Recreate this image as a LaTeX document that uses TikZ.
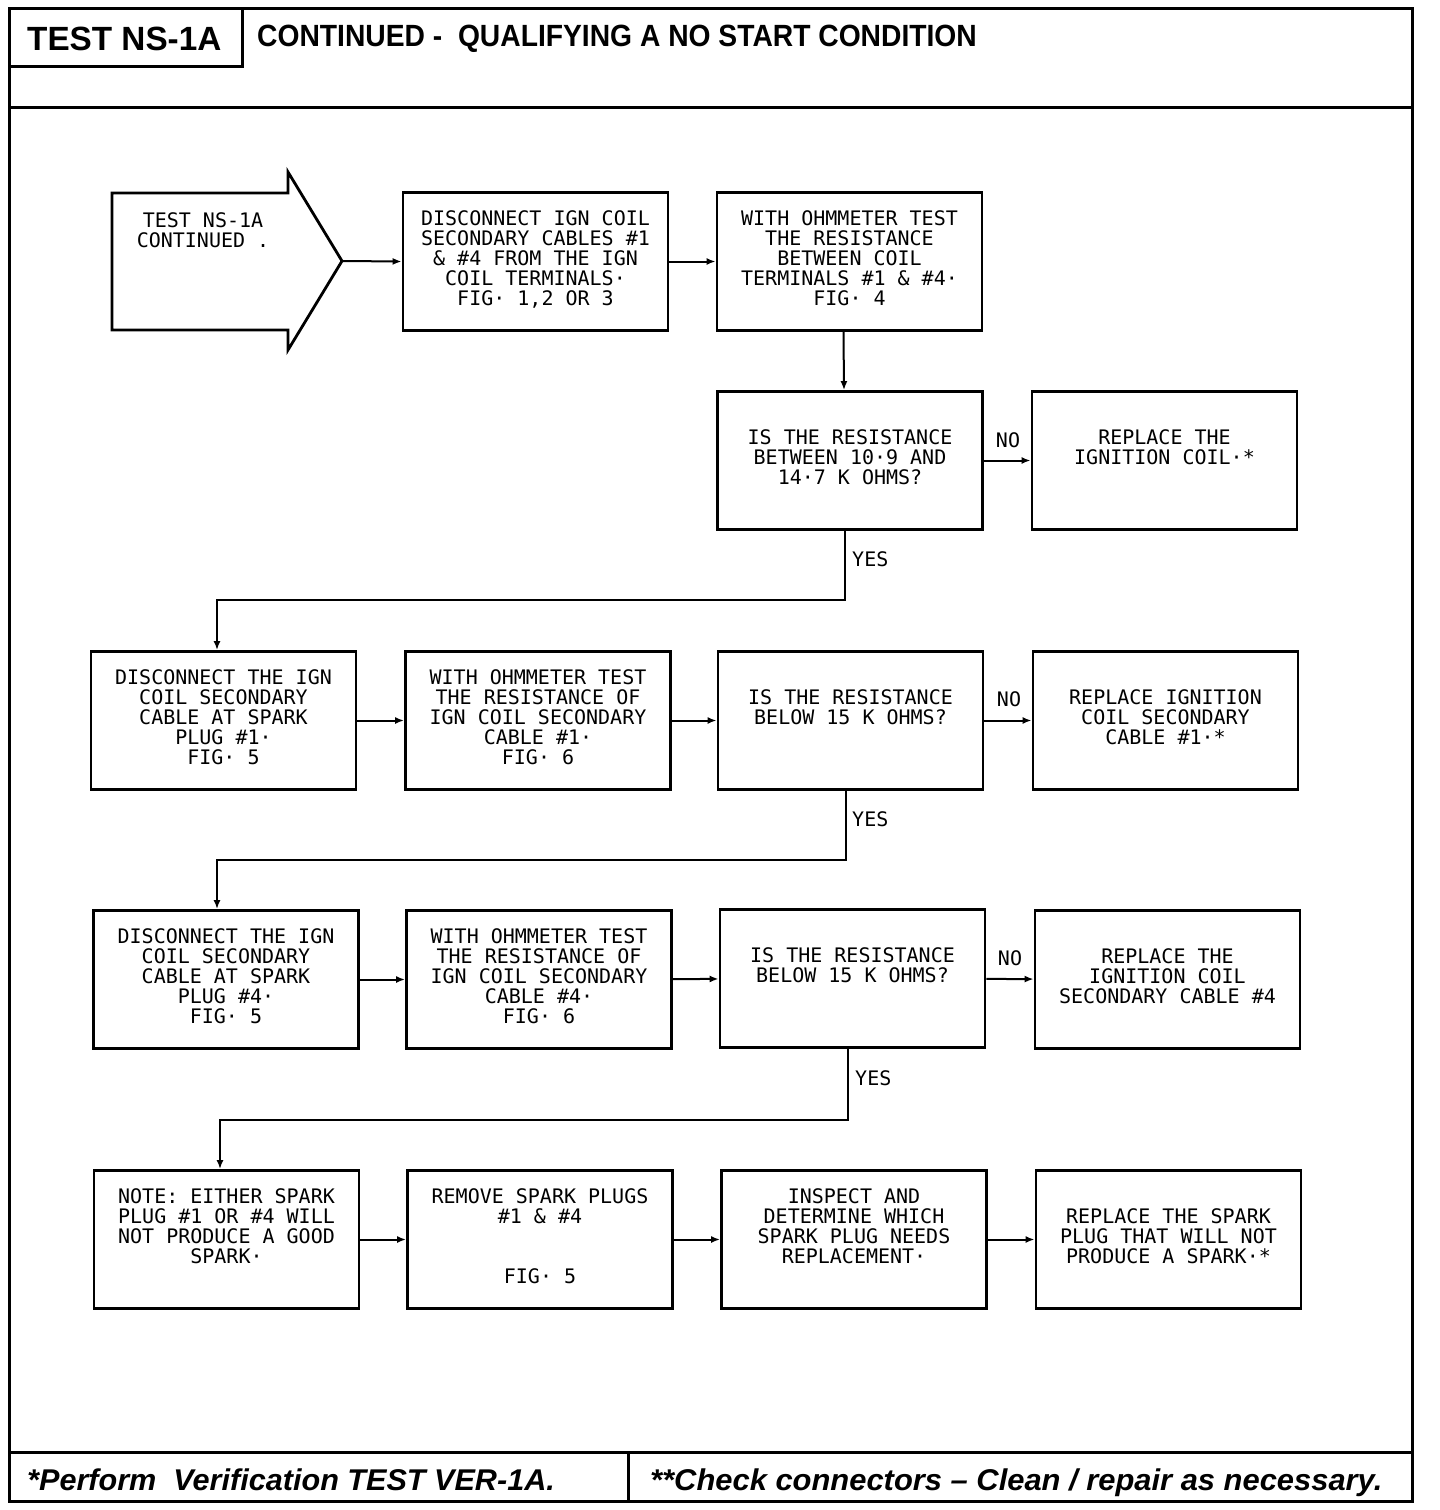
\documentclass[tikz,border=0pt]{standalone}
\usepackage{graphicx}
\usepackage{fontspec}
\newfontfamily\plotfont{DejaVu Sans Mono}
\newfontfamily\headfont{Liberation Sans}
\usetikzlibrary{arrows.meta}
\begin{document}
\begin{tikzpicture}[x=1pt,y=-1pt,
  stepbox/.style={draw, line width=2.8pt, minimum width=265pt, minimum height=138pt,
    inner sep=0pt, align=center, font=\plotfont\fontsize{20}{20}\selectfont,
    execute at begin node=\strut, execute at end node=\strut},
  conn/.style={line width=2pt, -{Latex[length=9pt,width=7pt]}},
  lbl/.style={font=\plotfont\fontsize{20}{20}\selectfont, inner sep=0pt},
  frameline/.style={line width=3pt},
  headtxt/.style={anchor=base west, inner sep=0pt}]
\useasboundingbox (0,0) rectangle (1440,1510);

% frame
\draw[frameline] (9,8) rectangle (1412,1501);
\draw[frameline] (9,66) -- (242,66) -- (242,8);
\draw[frameline] (9,107) -- (1412,107);
\draw[frameline] (9,1452) -- (1412,1452);
\draw[frameline] (628,1452) -- (628,1501);

\node[headtxt, font=\headfont\bfseries\fontsize{32}{32}\selectfont] (t1) at (27,50)
  {\scalebox{1.04}[1.05]{TEST NS-1A}};
\node[headtxt, font=\headfont\bfseries\fontsize{30.7}{31}\selectfont] (t2) at (257,46)
  {\scalebox{0.92}[1]{CONTINUED -\ \ QUALIFYING A NO START CONDITION}};
\node[headtxt, font=\headfont\bfseries\itshape\fontsize{30}{30}\selectfont] (f1) at (27,1490)
  {\scalebox{1.02}[1]{*Perform\ \ Verification TEST VER-1A.}};
\node[headtxt, font=\headfont\bfseries\itshape\fontsize{30}{30}\selectfont] (f2) at (650,1490)
  {\scalebox{1.03}[1]{**Check connectors – Clean / repair as necessary.}};

% start arrow
\draw[line width=2.8pt, line join=miter] (112,193) -- (288,193) -- (288,172) -- (342,261)
  -- (288,350) -- (288,330) -- (112,330) -- cycle;
\coordinate (tip) at (342,261);
\node[lbl, align=center] (st) at (203,230) {TEST NS-1A\\CONTINUED .};

% row 1
\node[stepbox] (a1) at (535.5,261.5) {DISCONNECT IGN COIL\\SECONDARY CABLES \#1\\\& \#4 FROM THE IGN\\COIL TERMINALS·\\FIG· 1,2 OR 3};
\node[stepbox] (a2) at (849.5,261.5) {WITH OHMMETER TEST\\THE RESISTANCE\\BETWEEN COIL\\TERMINALS \#1 \& \#4·\\FIG· 4};
% row 2
\node[stepbox] (q1) at (850,460.5) {IS THE RESISTANCE\\BETWEEN 10·9 AND\\14·7 K OHMS?};
\node[stepbox] (r1) at (1164.5,460.5) {REPLACE THE\\IGNITION COIL·*\\~};
% row 3
\node[stepbox] (b1) at (223.5,720.5) {DISCONNECT THE IGN\\COIL SECONDARY\\CABLE AT SPARK\\PLUG \#1·\\FIG· 5};
\node[stepbox] (b2) at (538,720.5) {WITH OHMMETER TEST\\THE RESISTANCE OF\\IGN COIL SECONDARY\\CABLE \#1·\\FIG· 6};
\node[stepbox] (q2) at (850.5,720.5) {IS THE RESISTANCE\\BELOW 15 K OHMS?\\~};
\node[stepbox] (r2) at (1165.5,720.5) {REPLACE IGNITION\\COIL SECONDARY\\CABLE \#1·*};
% row 4
\node[stepbox] (c1) at (226,979.5) {DISCONNECT THE IGN\\COIL SECONDARY\\CABLE AT SPARK\\PLUG \#4·\\FIG· 5};
\node[stepbox] (c2) at (539,979.5) {WITH OHMMETER TEST\\THE RESISTANCE OF\\IGN COIL SECONDARY\\CABLE \#4·\\FIG· 6};
\node[stepbox] (q3) at (852.5,978.5) {IS THE RESISTANCE\\BELOW 15 K OHMS?\\~};
\node[stepbox] (r3) at (1167.5,979.5) {REPLACE THE\\IGNITION COIL\\SECONDARY CABLE \#4};
% row 5
\node[stepbox] (d1) at (226.5,1239.5) {NOTE: EITHER SPARK\\PLUG \#1 OR \#4 WILL\\NOT PRODUCE A GOOD\\SPARK·\\~};
\node[stepbox] (d2) at (540,1239.5) {REMOVE SPARK PLUGS\\\#1 \& \#4\\~\\~\\FIG· 5};
\node[stepbox] (d3) at (854,1239.5) {INSPECT AND\\DETERMINE WHICH\\SPARK PLUG NEEDS\\REPLACEMENT·\\~};
\node[stepbox] (d4) at (1168.5,1239.5) {REPLACE THE SPARK\\PLUG THAT WILL NOT\\PRODUCE A SPARK·*};

% junction coordinates
\coordinate (j1) at (217,600);
\coordinate (j2) at (217,860);
\coordinate (j3) at (220,1120);

% connectors
\draw[conn] (tip) -- (a1.west);
\draw[conn] (a1) -- (a2);
\draw[conn] ([xshift=-6pt]a2.south) -- ([xshift=-6pt]q1.north);
\draw[conn] (q1) -- (r1);
\draw[conn] ([xshift=-5pt]q1.south) |- (j1) -- (b1.north -| j1);
\draw[conn] (b1) -- (b2);
\draw[conn] (b2) -- (q2);
\draw[conn] (q2) -- (r2);
\draw[conn] ([xshift=-5pt]q2.south) |- (j2) -- (c1.north -| j2);
\draw[conn] (c1) -- (c2);
\draw[conn] (c2) -- (q3);
\draw[conn] (q3) -- (r3);
\draw[conn] ([xshift=-5pt]q3.south) |- (j3) -- (d1.north -| j3);
\draw[conn] (d1) -- (d2);
\draw[conn] (d2) -- (d3);
\draw[conn] (d3) -- (d4);

% labels
\node[lbl] (no1) at (1008,440) {NO};
\node[lbl] (no2) at (1009,699) {NO};
\node[lbl] (no3) at (1010,958) {NO};
\node[lbl, anchor=west] (yes1) at (852,559) {YES};
\node[lbl, anchor=west] (yes2) at (852,819) {YES};
\node[lbl, anchor=west] (yes3) at (855,1078) {YES};
\end{tikzpicture}
\end{document}
